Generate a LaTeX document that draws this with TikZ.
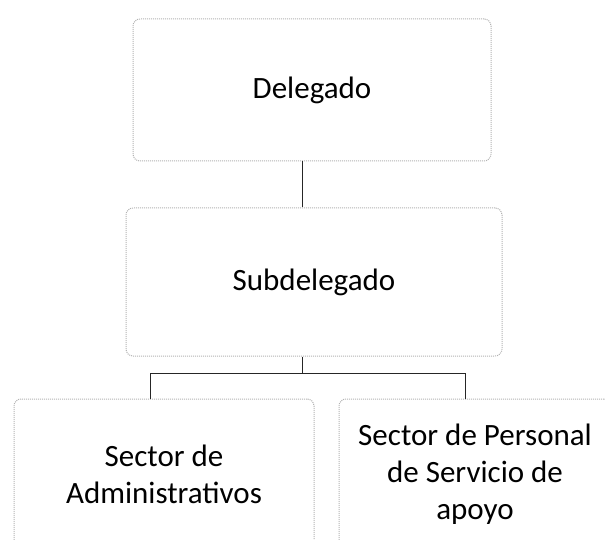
\documentclass[tikz,border=0pt]{standalone}
\usepackage{fontspec}
\setmainfont{Carlito}
\usetikzlibrary{positioning}

\begin{document}
\begin{tikzpicture}[x=1pt,y=-1pt,thick,
                    org box/.style={draw=gray!60,densely dotted,line width=1pt,rounded corners=7pt,
                                    align=center,font=\fontsize{31}{37}\selectfont},
                    link/.style={draw=black!85,line width=0.9pt}]
                \useasboundingbox (0,0) rectangle (605,540);
                \node[org box,minimum width=358pt,minimum height=142pt] (D) at (312,90) {Delegado};
                \node[org box,minimum width=376pt,minimum height=148pt] (SD) at (314,282) {Subdelegado};
                \node[org box,minimum width=300pt,minimum height=150pt] (SA) at (164,474) {Sector de\\Administrativos};
                \node[org box,minimum width=272pt,minimum height=150pt] (SP) at (475,474) {Sector de Personal\\de Servicio de\\apoyo};
                % connectors
                \coordinate (up) at (302,161);
                \coordinate (split) at (302,373);
                \coordinate (left) at (150,373);
                \coordinate (right) at (465,373);
                \path[link]
                    (up) edge (up |- SD.north)
                    (split |- SD.south) edge (split)
                    (left) edge (right)
                    (left) edge (left |- SA.north)
                    (right) edge (right |- SP.north);
                \end{tikzpicture}
\end{document}
